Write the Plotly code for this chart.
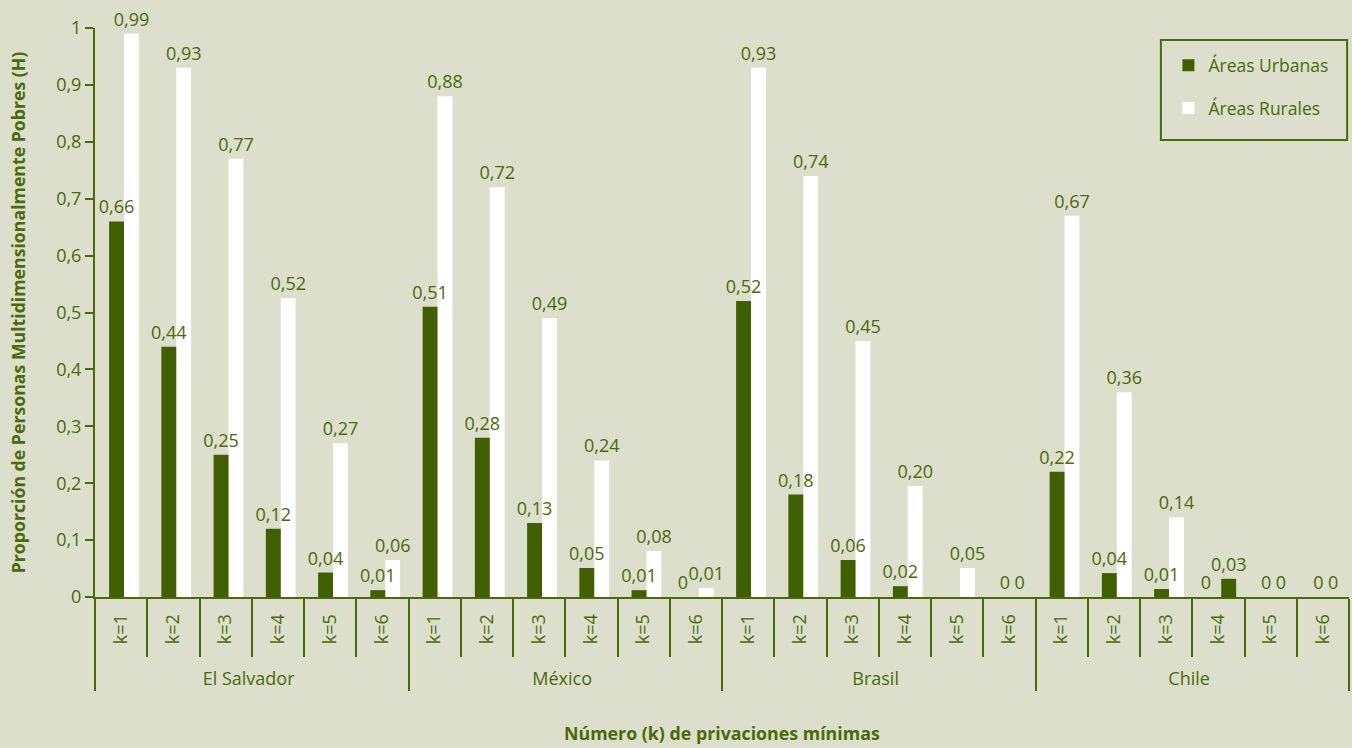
import plotly.graph_objects as go

countries = ["El Salvador", "México", "Brasil", "Chile"]
k_labels = ["k=1", "k=2", "k=3", "k=4", "k=5", "k=6"]

# Bar heights
urban_es = [0.66, 0.44, 0.25, 0.12, 0.043, 0.012]
urban_mx = [0.51, 0.28, 0.13, 0.051, 0.012, 0]
urban_br = [0.52, 0.18, 0.065, 0.019, None, 0]
urban_cl = [0.22, 0.042, 0.014, 0, 0, 0]

rural_es = [0.99, 0.93, 0.77, 0.525, 0.27, 0.065]
rural_mx = [0.88, 0.72, 0.49, 0.24, 0.081, 0.016]
rural_br = [0.93, 0.74, 0.45, 0.195, 0.051, 0]
rural_cl = [0.67, 0.36, 0.14, 0.032, 0, 0]

# Data labels as printed
urban_lbl = ["0,66", "0,44", "0,25", "0,12", "0,04", "0,01",
             "0,51", "0,28", "0,13", "0,05", "0,01", "0",
             "0,52", "0,18", "0,06", "0,02", "", "0",
             "0,22", "0,04", "0,01", "0", "0", "0"]
rural_lbl = ["0,99", "0,93", "0,77", "0,52", "0,27", "0,06",
             "0,88", "0,72", "0,49", "0,24", "0,08", "0,01",
             "0,93", "0,74", "0,45", "0,20", "0,05", "0",
             "0,67", "0,36", "0,14", "0,03", "0", "0"]

y_ticks = [0, 0.1, 0.2, 0.3, 0.4, 0.5, 0.6, 0.7, 0.8, 0.9, 1]
y_tick_text = ["0", "0,1", "0,2", "0,3", "0,4", "0,5", "0,6", "0,7", "0,8", "0,9", "1"]

GREEN = "#405f00"
TEXT = "#4b6a0a"
BG = "#dbdfcc"
AX = "#4b6a05"
FONT = "Open Sans"

PAD = "\u00a0" * 3  # extends rotated label boxes so the country row sits lower
x_outer = [c for c in countries for _ in k_labels]
x_inner = [PAD + k for _ in countries for k in k_labels]
urban = urban_es + urban_mx + urban_br + urban_cl
rural = rural_es + rural_mx + rural_br + rural_cl
rural_colors = ["#ffffff"] * len(rural)
rural_colors[21] = GREEN  # Chile k=4 drawn in dark green in the original

BW = 0.285
U_OFF = -0.23
R_OFF = 0.055
X = [x_outer, x_inner]
u_lbl_off = [U_OFF] * len(urban)
u_lbl_off[11] = U_OFF - 0.16  # label nudged left to clear the neighbouring label
u_lbl_off[21] = U_OFF - 0.15

fig = go.Figure()
# bars
fig.add_trace(go.Bar(
    x=X, y=rural, name="Áreas Rurales", width=BW, offset=R_OFF,
    marker=dict(color=rural_colors, line=dict(width=0)),
    legendgroup="r", legendrank=2, hoverinfo="skip",
))
fig.add_trace(go.Bar(
    x=X, y=urban, name="Áreas Urbanas", width=BW, offset=U_OFF,
    marker=dict(color=GREEN, line=dict(width=0)),
    legendgroup="u", legendrank=1, hoverinfo="skip",
))
# labels drawn on top of all bars
for vals, lbl, off in [(urban, urban_lbl, u_lbl_off), (rural, rural_lbl, R_OFF)]:
    fig.add_trace(go.Bar(
        x=X, y=vals, width=BW, offset=off,
        marker=dict(color="rgba(0,0,0,0)", line=dict(width=0)),
        text=lbl, textposition="outside", cliponaxis=False,
        constraintext="none",
        textfont=dict(family=FONT, size=18, color=TEXT),
        showlegend=False, hoverinfo="skip",
    ))

fig.update_layout(
    width=1352, height=748,
    paper_bgcolor=BG, plot_bgcolor=BG,
    margin=dict(l=95, r=3, t=28, b=151),
    barmode="overlay",
    font=dict(family=FONT, color=TEXT, size=18),
    legend=dict(
        x=0.856, y=0.966, xanchor="left", yanchor="top",
        borderwidth=0, bgcolor="rgba(0,0,0,0)",
        font=dict(family=FONT, size=17.5, color=TEXT),
        traceorder="grouped", tracegroupgap=17,
        itemwidth=30,
    ),
    shapes=[dict(type="rect", xref="paper", yref="paper",
                 x0=0.850, x1=0.9985, y0=0.8032, y1=0.9789,
                 line=dict(color="#4a6b06", width=2), fillcolor="rgba(0,0,0,0)")],
    annotations=[dict(text="<b>Número (k) de privaciones mínimas</b>",
                      xref="paper", yref="paper", x=0.5, y=-0.239,
                      xanchor="center", yanchor="middle", showarrow=False,
                      font=dict(family=FONT, size=17.8, color=TEXT))],
    xaxis=dict(
        type="multicategory",
        showline=True, linecolor=AX, linewidth=2,
        ticks="outside", tickcolor=AX, tickwidth=2, ticklen=58,
        ticklabelstandoff=8,
        tickangle=-90,
        showdividers=True, dividercolor=AX, dividerwidth=2,
        tickfont=dict(family=FONT, size=18, color=TEXT),
        showgrid=False,
    ),
    yaxis=dict(
        range=[0, 1], tickvals=y_ticks, ticktext=y_tick_text,
        showline=True, linecolor=AX, linewidth=2,
        ticks="outside", tickcolor=AX, tickwidth=2, ticklen=8,
        showgrid=False, zeroline=False,
        tickfont=dict(family=FONT, size=18, color=TEXT),
        title=dict(text="<b>Proporción de Personas Multidimensionalmente Pobres (H)</b>",
                   font=dict(family=FONT, size=17.7, color=TEXT), standoff=26),
    ),
)

fig.write_html("out.html", config={"displayModeBar": False},
               post_script="document.body.style.margin='0';")
